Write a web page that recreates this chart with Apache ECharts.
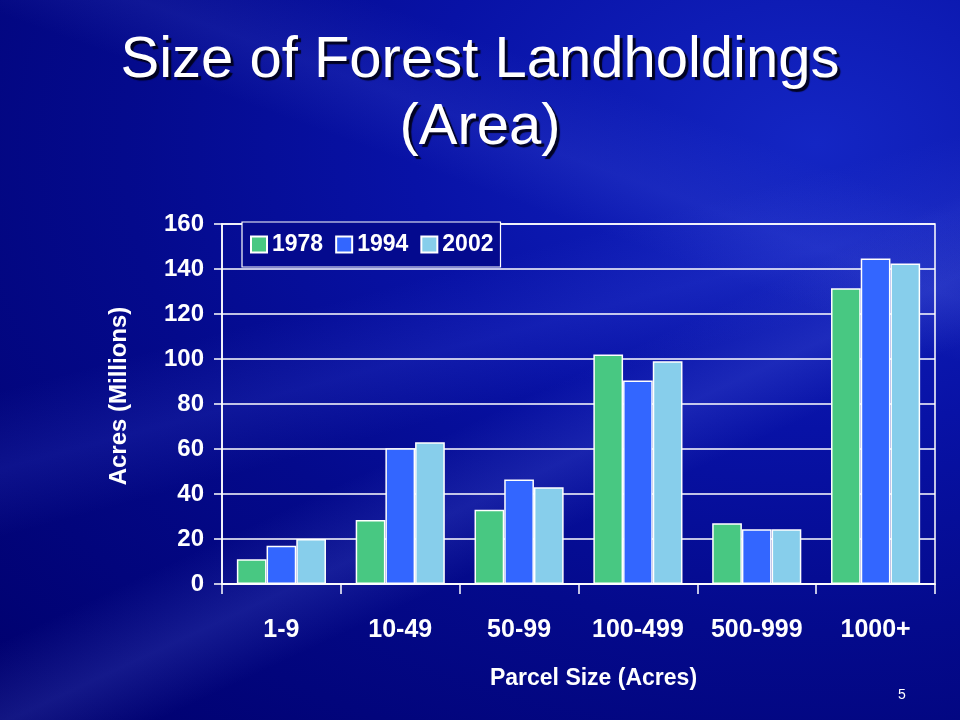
<!DOCTYPE html>
<html>
<head>
<meta charset="utf-8">
<script src="https://cdn.jsdelivr.net/npm/echarts@6/dist/echarts.min.js"></script>
<style>
html,body{margin:0;padding:0;}
#bg{position:absolute;left:0;top:0;width:960px;height:720px;overflow:hidden;
background:
 linear-gradient(155deg, rgba(255,255,255,0) 55%, rgba(120,140,255,0.16) 62%, rgba(255,255,255,0) 68%),
 linear-gradient(165deg, rgba(255,255,255,0) 40%, rgba(90,110,255,0.13) 48%, rgba(255,255,255,0) 55%),
 linear-gradient(200deg, rgba(255,255,255,0) 20%, rgba(120,140,255,0.10) 28%, rgba(255,255,255,0) 34%),
 radial-gradient(ellipse at 85% 20%, #1426c4 0%, #0812a6 35%, #040a8c 60%, #00006c 100%);}
#chart{position:absolute;left:0;top:0;width:960px;height:720px;}
</style>
</head>
<body>
<div id="bg"></div>
<div id="chart"></div>
<script>
const categories = ['1-9','10-49','50-99','100-499','500-999','1000+'];
const years = ['1978','1994','2002'];
const values1978 = [11, 28.5, 33, 102, 27, 131.5];
const values1994 = [17, 60.3, 46.5, 90.5, 24.3, 144.7];
const values2002 = [20, 63, 43, 99, 24.3, 142.5];
const yTicks = [0,20,40,60,80,100,120,140,160];
const colors = ['#48C882','#3366FF','#87CEEB'];

const chart = echarts.init(document.getElementById('chart'));
const sans = '"Liberation Sans", Arial, sans-serif';
const seriesData = [values1978, values1994, values2002];
chart.setOption({
  backgroundColor: 'transparent',
  color: colors,
  title: [{
    text: 'Size of Forest Landholdings\n(Area)',
    left: 'center', top: 22,
    textStyle: {color:'#ffffff', fontFamily: sans, fontSize: 58, fontWeight:'normal', lineHeight: 67,
      textShadowColor:'rgba(0,0,20,0.9)', textShadowOffsetX:3, textShadowOffsetY:3, textShadowBlur:1}
  },{
    text: '5', left: 893, top: 683,
    textStyle:{color:'#ffffff', fontFamily: sans, fontSize: 14, fontWeight:'normal'}
  }],
  legend: {
    data: years, left: 242, top: 222, itemWidth: 16, itemHeight: 16, itemGap: 12,
    padding: [11, 7, 11, 8],
    backgroundColor: '#040a8e', borderColor: '#ffffff', borderWidth: 1.2,
    textStyle: {color:'#ffffff', fontFamily: sans, fontSize: 23, fontWeight:'bold'},
    icon: 'rect'
  },
  grid: {left: 222, right: 25, top: 224, bottom: 136, show: true, borderColor:'#ffffff', borderWidth: 1.5, backgroundColor:'transparent'},
  xAxis: {
    type: 'category', data: categories,
    name: 'Parcel Size (Acres)', nameLocation: 'middle', nameGap: 83,
    nameTextStyle: {color:'#ffffff', fontFamily: sans, fontSize: 23, fontWeight:'bold', padding:[0,0,0,30]},
    axisLine: {lineStyle:{color:'#ffffff', width:1.5}},
    axisTick: {show:true, length: 10, lineStyle:{color:'#ffffff', width:1.5}},
    axisLabel: {color:'#ffffff', fontFamily: sans, fontSize: 25, fontWeight:'bold', margin: 34, interval: 0}
  },
  yAxis: {
    type: 'value', min: 0, max: 160, interval: 20,
    name: 'Acres (Millions)', nameLocation: 'middle', nameGap: 91, nameRotate: 90,
    nameTextStyle: {color:'#ffffff', fontFamily: sans, fontSize: 24, fontWeight:'bold', padding:[0,0,0,16]},
    axisLine: {show:true, lineStyle:{color:'#ffffff', width:1.5}},
    axisTick: {show:true, length: 8, lineStyle:{color:'#ffffff', width:1.5}},
    splitLine: {lineStyle:{color:'#ffffff', width:1.5}},
    axisLabel: {color:'#ffffff', fontFamily: sans, fontSize: 24, fontWeight:'bold', margin: 18,
      formatter: v => yTicks.includes(v) ? String(v) : ''}
  },
  series: years.map((y,i)=>({
    name: y, type: 'bar', data: seriesData[i],
    barGap: '0%', barCategoryGap: '25%',
    itemStyle: {color: colors[i], borderColor:'#ffffff', borderWidth: 1.5}
  }))
});
</script>
</body>
</html>
